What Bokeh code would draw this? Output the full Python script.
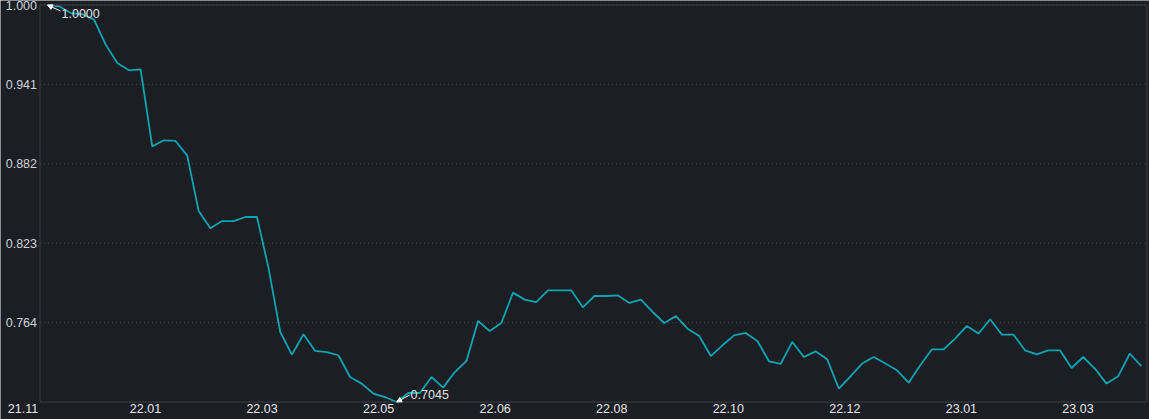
from bokeh.plotting import figure
from bokeh.models import (FixedTicker, Label, Arrow, NormalHead, Range1d, BoxAnnotation,
                          CustomJSTickFormatter, NumeralTickFormatter, ColumnDataSource)
from bokeh.embed import file_html
from bokeh.resources import INLINE

# ---- data ----
values = [
    1.0000, 0.9990, 0.9940, 0.9931, 0.9891, 0.9705, 0.9568, 0.9514, 0.9521, 0.8948,
    0.8993, 0.8988, 0.8881, 0.8464, 0.8338, 0.8392, 0.8392, 0.8422, 0.8422, 0.8040,
    0.7566, 0.7398, 0.7549, 0.7425, 0.7417, 0.7393, 0.7231, 0.7182, 0.7108, 0.7082,
    0.7045, 0.7112, 0.7112, 0.7231, 0.7152, 0.7268, 0.7350, 0.7648, 0.7573, 0.7633,
    0.7859, 0.7807, 0.7789, 0.7876, 0.7876, 0.7876, 0.7750, 0.7834, 0.7834, 0.7839,
    0.7782, 0.7807, 0.7715, 0.7633, 0.7685, 0.7591, 0.7536, 0.7387, 0.7467, 0.7541,
    0.7559, 0.7499, 0.7348, 0.7328, 0.7492, 0.7380, 0.7422, 0.7363, 0.7145, 0.7236,
    0.7331, 0.7380, 0.7331, 0.7281, 0.7189, 0.7318, 0.7437, 0.7437, 0.7517, 0.7611,
    0.7554, 0.7661, 0.7547, 0.7547, 0.7430, 0.7400, 0.7430, 0.7430, 0.7298, 0.7380,
    0.7294, 0.7182, 0.7236, 0.7405, 0.7311,
]
x_labels = ["21.11", "22.01", "22.03", "22.05", "22.06", "22.08", "22.10", "22.12", "23.01", "23.03"]

# ---- layout / style (pixels) ----
W, H = 1149, 419
BOX_L, BOX_R, BOX_T, BOX_B = 39.5, 1146.5, 4.5, 401.5   # plot box edges
FIRST_PX, LAST_PX = 47.0, 1140.9                         # first / last point
BG = "#1b1e23"
LINE = "#06a5b5"
GRID = "#45484d"
EDGE = "#3d4045"
FONT = "Liberation Sans"
FS = "12.5px"

n = len(values)
idx = list(range(n))
vmin, vmax = min(values), max(values)

px_x = (LAST_PX - FIRST_PX) / (n - 1)
px_y = (BOX_B - BOX_T) / (vmax - vmin)
x_start = -FIRST_PX / px_x
x_end = (n - 1) + (W - LAST_PX) / px_x
y_start = vmin - (H - BOX_B) / px_y
y_end = vmax + BOX_T / px_y
box_l = (BOX_L - FIRST_PX) / px_x
box_r = (n - 1) + (BOX_R - LAST_PX) / px_x

p = figure(width=W, height=H, output_backend="svg", toolbar_location=None,
           x_range=Range1d(x_start, x_end), y_range=Range1d(y_start, y_end),
           background_fill_color=BG, border_fill_color=BG,
           min_border_left=0, min_border_right=0, min_border_top=0, min_border_bottom=0)
p.outline_line_color = None
p.xgrid.visible = False
p.ygrid.visible = False

# y ticks: 5 equal steps between min and max, top 5 labelled
step = (vmax - vmin) / 5
yticks = [vmax - k * step for k in range(5)]

# dotted horizontal grid lines inside the plot box
p.segment(x0=[box_l] * len(yticks), x1=[box_r] * len(yticks), y0=yticks, y1=yticks,
          line_color=GRID, line_dash="1 3", line_width=1)

# plot box (axis lines + outline)
p.add_layout(BoxAnnotation(left=box_l, right=box_r, bottom=vmin, top=vmax,
                           fill_alpha=0, fill_color=None, line_color=EDGE, line_width=1,
                           line_alpha=1))

src = ColumnDataSource(dict(x=idx, y=values))
p.line("x", "y", source=src, line_color=LINE, line_width=1.8)

# y axis pinned to the plot box's left edge
p.yaxis.fixed_location = box_l
p.yaxis.ticker = FixedTicker(ticks=yticks)
p.yaxis.formatter = NumeralTickFormatter(format="0.000")
p.yaxis.axis_line_color = None
for ax in (p.xaxis, p.yaxis):
    ax.major_tick_out = 0
    ax.major_tick_in = 0
    ax.minor_tick_out = 0
    ax.minor_tick_in = 0
    ax.major_label_text_font = FONT
    ax.major_label_text_font_size = FS
p.yaxis.major_label_standoff = 3
p.yaxis.major_label_text_color = "#cfd3d7"

# x axis pinned to the plot box's bottom edge; labels roughly every 10 points
t_first, t_step, t_pre = 8.42, 10.016, -2.11
xticks = [t_pre] + [t_first + k * t_step for k in range(len(x_labels) - 1)]
p.xaxis.fixed_location = vmin
p.xaxis.ticker = FixedTicker(ticks=xticks)
p.xaxis.formatter = CustomJSTickFormatter(
    args=dict(labels=x_labels, t0=t_first, st=t_step),
    code="if (tick < t0 - 1) { return labels[0]; } "
         "const i = Math.round((tick - t0) / st) + 1; "
         "return (i >= 1 && i < labels.length) ? labels[i] : '';")
p.xaxis.axis_line_color = None
p.xaxis.major_label_standoff = 2
p.xaxis.major_label_text_color = "#e6e8ea"

# max / min annotations
imax = values.index(vmax)
imin = values.index(vmin)
for i, dx, dy in [(imax, 13, -6), (imin, 13, 7)]:
    v = values[i]
    p.add_layout(Arrow(end=NormalHead(size=5, fill_color="white", line_color="white"),
                       x_start=i + dx / px_x, y_start=v + dy / px_y, x_end=i, y_end=v,
                       line_color="white", line_width=1))
    p.add_layout(Label(x=i, y=v, x_offset=dx + 1, y_offset=dy - (2 if dy < 0 else -1),
                       text=f"{v:.4f}", text_align="left", text_baseline="middle",
                       text_color="#e0e2e4", text_font=FONT, text_font_size=FS))

open("out.html", "w").write(file_html(p, INLINE))
